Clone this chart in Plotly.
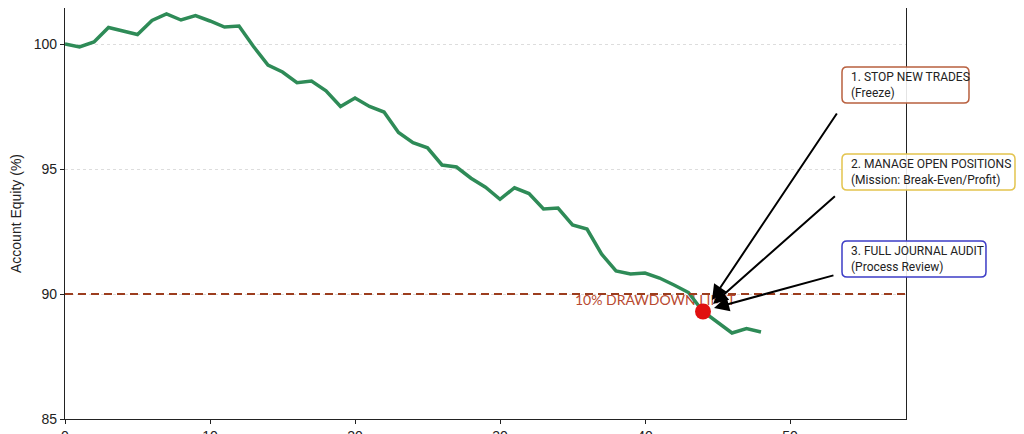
import plotly.graph_objects as go

# Data
days = list(range(49))
equity = [100.0, 99.88, 100.08, 100.66, 100.52, 100.38, 100.94, 101.2, 100.96, 101.14,
          100.92, 100.68, 100.72, 99.9, 99.16, 98.88, 98.45, 98.52, 98.13, 97.5,
          97.84, 97.5, 97.28, 96.46, 96.05, 95.85, 95.16, 95.08, 94.63, 94.27,
          93.79, 94.25, 94.02, 93.4, 93.44, 92.76, 92.6, 91.6, 90.92, 90.8,
          90.84, 90.64, 90.36, 90.06, 89.3, 88.88, 88.44, 88.62, 88.48]
limit_level = 90
breach_day = 44
breach_value = 89.3

limit_label = "10% DRAWDOWN LIMIT"
box_texts = ["1. STOP NEW TRADES<br>(Freeze)",
             "2. MANAGE OPEN POSITIONS<br>(Mission: Break-Even/Profit)",
             "3. FULL JOURNAL AUDIT<br>(Process Review)"]
box_colors = ["#b8603f", "#e3c44e", "#3c3cc6"]
arrow_tail_x = [53.3, 53.2, 53.1]
arrow_tail_y = [97.28, 93.96, 90.76]
arrow_tip_x = [44.62, 44.69, 44.76]
arrow_tip_y = [89.76, 89.6, 89.44]

# Box geometry in paper fractions of the plot area (left, right, bottom, top)
box_left = [0.9239, 0.9239, 0.9239]
box_right = [1.0749, 1.1296, 1.0951]
box_bottom = [0.7689, 0.5572, 0.3455]
box_top = [0.8564, 0.6448, 0.4331]

PLOT_W, PLOT_H = 841, 411

font_main = "Liberation Sans, Arial, sans-serif"

fig = go.Figure()

fig.add_trace(go.Scatter(x=[35.17], y=[89.72], mode="text", text=[limit_label],
                         textposition="middle right",
                         textfont=dict(family="Lato, sans-serif", size=14, color="#b8492f"),
                         showlegend=False, hoverinfo="skip"))

fig.add_trace(go.Scatter(x=days, y=equity, mode="lines",
                         line=dict(color="#2e8b57", width=3.5),
                         showlegend=False))

fig.add_trace(go.Scatter(x=[breach_day], y=[breach_value], mode="markers",
                         marker=dict(color="#e01010", size=16, line=dict(width=0)),
                         showlegend=False))

fig.add_shape(type="line", xref="x", yref="y", x0=0, x1=58, y0=limit_level, y1=limit_level,
              line=dict(color="#9c3d1e", width=2, dash="8px,5px"), layer="above")


def rounded_rect(x0, x1, y0, y1, r_px=5):
    rx = r_px / PLOT_W
    ry = r_px / PLOT_H
    return (f"M {x0+rx},{y0} L {x1-rx},{y0} Q {x1},{y0} {x1},{y0+ry} "
            f"L {x1},{y1-ry} Q {x1},{y1} {x1-rx},{y1} "
            f"L {x0+rx},{y1} Q {x0},{y1} {x0},{y1-ry} "
            f"L {x0},{y0+ry} Q {x0},{y0} {x0+rx},{y0} Z")


annotations = []
for tx, ty, hx, hy in zip(arrow_tail_x, arrow_tail_y, arrow_tip_x, arrow_tip_y):
    annotations.append(dict(x=hx, y=hy, ax=tx, ay=ty, xref="x", yref="y", axref="x", ayref="y",
                            text="", showarrow=True, arrowhead=2, arrowsize=1.5,
                            arrowwidth=2, arrowcolor="black", standoff=0, startstandoff=0))
for t, c, x0, x1, y0, y1 in zip(box_texts, box_colors, box_left, box_right, box_bottom, box_top):
    fig.add_shape(type="path", xref="paper", yref="paper", path=rounded_rect(x0, x1, y0, y1),
                  line=dict(color=c, width=1.5), fillcolor="rgba(255,255,255,0.88)",
                  layer="above")
    annotations.append(dict(x=x0 + 7 / PLOT_W, y=(y0 + y1) / 2, xref="paper", yref="paper",
                            text=t, showarrow=False,
                            xanchor="left", yanchor="middle", align="left",
                            font=dict(family="Roboto, sans-serif", size=12, color="#222222")))

fig.update_layout(
    width=1016, height=426,
    margin=dict(l=57, r=118, t=0, b=15),
    paper_bgcolor="white", plot_bgcolor="white",
    template="none",
    annotations=annotations,
    font=dict(family=font_main, size=14, color="#222222"),
)
fig.update_xaxes(range=[0, 58], dtick=10, tick0=0, showgrid=False, zeroline=False,
                 showline=True, linecolor="#222222", linewidth=1.2,
                 ticks="outside", ticklen=4, tickcolor="#222222", automargin=False,
                 tickfont=dict(size=14))
fig.update_yaxes(range=[85, 101.44], dtick=5, tick0=85, showgrid=True,
                 gridcolor="#dddddd", griddash="dot", gridwidth=1, zeroline=False,
                 showline=True, mirror=True, linecolor="#222222", linewidth=1.2,
                 ticks="outside", ticklen=4, tickcolor="#222222", automargin=False,
                 title=dict(text="Account Equity (%)", standoff=12, font=dict(size=14)),
                 tickfont=dict(size=14))

fig.write_html("out.html")
